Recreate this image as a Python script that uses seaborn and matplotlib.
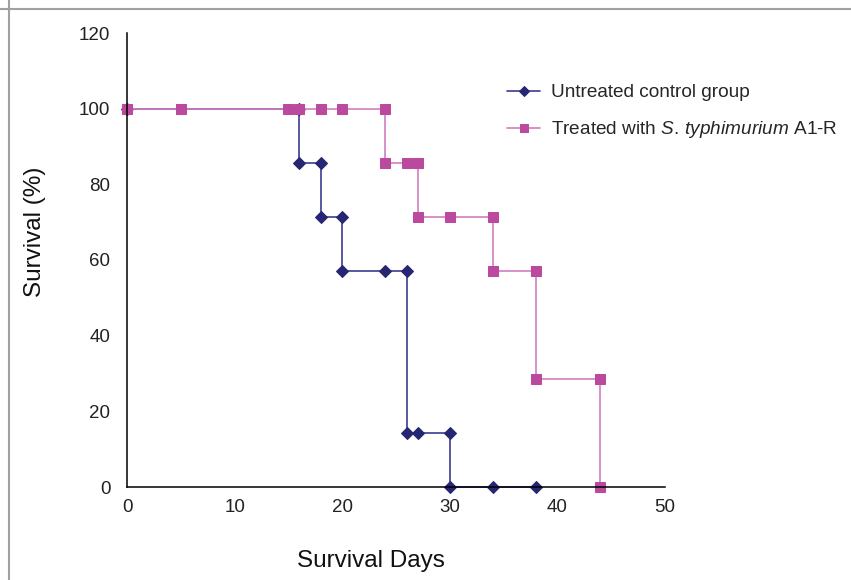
import pandas as pd
import matplotlib.pyplot as plt
import seaborn as sns
from matplotlib.lines import Line2D

# Survival data (step points, repeated x = drop)
untreated_days = [0, 16, 16, 18, 18, 20, 20, 24, 26, 26, 27, 30, 30, 34, 38]
untreated_surv = [100, 100, 85.7, 85.7, 71.4, 71.4, 57.1, 57.1, 57.1, 14.3, 14.3, 14.3, 0, 0, 0]

treated_days = [0, 5, 15, 16, 18, 20, 24, 24, 26, 27, 27, 30, 34, 34, 38, 38, 44, 44]
treated_surv = [100, 100, 100, 100, 100, 100, 100, 85.7, 85.7, 85.7, 71.4, 71.4, 71.4, 57.1, 57.1, 28.6, 28.6, 0]

x_ticks = [0, 10, 20, 30, 40, 50]
y_ticks = [0, 20, 40, 60, 80, 100, 120]

untreated = pd.DataFrame({'days': untreated_days, 'survival': untreated_surv})
treated = pd.DataFrame({'days': treated_days, 'survival': treated_surv})

sns.set_style('white')
plt.rcParams['font.family'] = ['Liberation Sans', 'DejaVu Sans']
plt.rcParams['mathtext.fontset'] = 'custom'
plt.rcParams['mathtext.rm'] = 'Liberation Sans'
plt.rcParams['mathtext.it'] = 'Liberation Sans:italic'

fig = plt.figure(figsize=(8.51, 5.80), dpi=100)
ax = fig.add_axes([127 / 851, 1 - 487 / 580, 538 / 851, 454 / 580])

sns.lineplot(data=untreated, x='days', y='survival', sort=False, estimator=None,
             color='#3C3C8F', linewidth=1.2, marker='D', markersize=6.2,
             markerfacecolor='#262673', markeredgecolor='#262673',
             label='Untreated control group', ax=ax)
sns.lineplot(data=treated, x='days', y='survival', sort=False, estimator=None,
             color='#D07EC0', linewidth=1.2, marker='s', markersize=7.5,
             markerfacecolor='#BB4A9E', markeredgecolor='#BB4A9E',
             label='Treated with $\\it{S.\\,typhimurium}$ A1-R', ax=ax)

ax.set_xlim(0, 50)
ax.set_ylim(0, 120)
ax.set_xticks(x_ticks)
ax.set_yticks(y_ticks)
ax.set_xlabel('')
ax.set_ylabel('')
for side in ['top', 'right']:
    ax.spines[side].set_visible(False)
for side in ['left', 'bottom']:
    ax.spines[side].set_color('black')
    ax.spines[side].set_linewidth(1.1)
for line in ax.get_lines():
    line.set_clip_on(False)
ax.tick_params(axis='both', direction='inout', length=8, width=1.1, color='black',
               labelsize=13.5, labelcolor='#222222')
ax.tick_params(axis='y', pad=8)
ax.tick_params(axis='x', pad=5)

fig.text(371 / 851, 1 - 561 / 580, 'Survival Days', ha='center', va='center', fontsize=17.5, color='#111111')
fig.text(35 / 851, 1 - 232 / 580, 'Survival (%)', ha='center', va='center', rotation=90,
         fontsize=17.5, color='#111111')

ax.legend(loc='upper left', bbox_to_anchor=(507 / 851, 1 - 84 / 580), bbox_transform=fig.transFigure,
          frameon=False, fontsize=13.7, handlelength=1.75, handletextpad=0.58,
          labelspacing=0.95, borderpad=0, borderaxespad=0, markerscale=0.75)

# thin grey frame on top and left edges, as in the source image
fig.add_artist(Line2D([0, 1], [1 - 9 / 580, 1 - 9 / 580], color='#a0a0a0', linewidth=1.5))
fig.add_artist(Line2D([9 / 851, 9 / 851], [0, 1], color='#a0a0a0', linewidth=1.5))

plt.savefig('out.png', dpi=100)
